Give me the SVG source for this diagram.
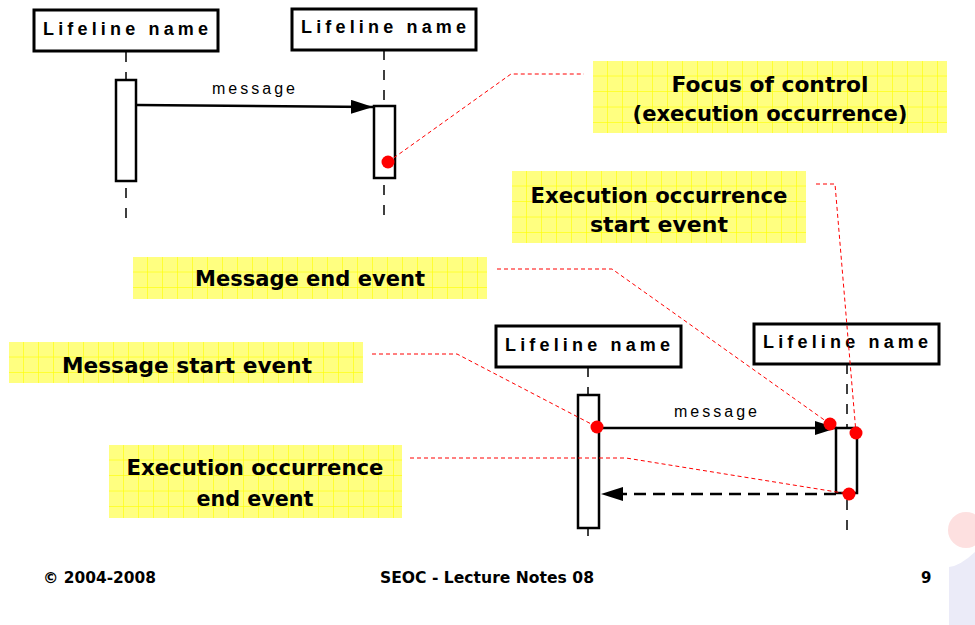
<svg xmlns="http://www.w3.org/2000/svg" width="975" height="625" viewBox="0 0 975 625">
<style>
.lbox{fill:#fff;stroke:#000;stroke-width:3}
.lname{font-family:"Liberation Sans",Arial,sans-serif;font-weight:bold;font-size:18px;fill:#000}
.life{stroke:#000;stroke-width:1.5;stroke-dasharray:10 10;fill:none}
.act{fill:#fff;stroke:#000;stroke-width:2.5}
.msg{stroke:#000;stroke-width:2.5;fill:none}
.ret{stroke:#000;stroke-width:2.5;fill:none;stroke-dasharray:12 7}
.mlabel{font-family:"Liberation Sans",Arial,sans-serif;font-size:16px;fill:#000}
.note{fill:url(#grid)}
.ntext{font-family:"DejaVu Sans","Liberation Sans",sans-serif;font-weight:bold;font-size:22px;fill:#000;text-anchor:middle}
.lead{stroke:#ff0000;stroke-width:1;stroke-dasharray:4 3;fill:none}
.dot{fill:#ff0000}
.foot{font-family:"DejaVu Sans","Liberation Sans",sans-serif;font-weight:bold;font-size:15px;fill:#000}
</style>
<defs>
<pattern id="grid" patternUnits="userSpaceOnUse" width="15" height="15.5">
<rect width="15" height="15.5" fill="#ffff80"/>
<rect x="14.4" width="1.2" height="15.5" fill="#ffff00"/>
<rect y="14.9" width="15" height="1.2" fill="#ffff00"/>
</pattern>
<marker id="arr" markerUnits="userSpaceOnUse" markerWidth="24" markerHeight="16" refX="22" refY="7" orient="auto">
<path d="M0,0 L22,7 L0,14 Z" fill="#000"/>
</marker>
</defs>
<rect width="975" height="625" fill="#fff"/>
<!-- decoration -->
<circle cx="966" cy="530" r="18" fill="#fde0e0"/>
<path d="M949,567 Q960,566 975,552 L975,625 L949,625 Z" fill="#ebebf8"/>

<!-- lifelines top -->
<g id="lifeline1">
<line class="life" x1="126" y1="52" x2="126" y2="80"/>
<line class="life" x1="126" y1="188" x2="126" y2="222"/>
<rect class="lbox" x="34" y="10" width="184" height="41"/>
<text class="lname" x="43" y="35" textLength="165" lengthAdjust="spacing">Lifeline name</text>
<rect class="act" x="116" y="80" width="20" height="101"/>
</g>
<g id="lifeline2">
<line class="life" x1="384" y1="50" x2="384" y2="106"/>
<line class="life" x1="384" y1="185" x2="384" y2="220"/>
<rect class="lbox" x="292" y="9" width="184" height="41"/>
<text class="lname" x="301" y="33" textLength="165" lengthAdjust="spacing">Lifeline name</text>
<rect class="act" x="374" y="106" width="21" height="72"/>
</g>
<!-- lifelines bottom -->
<g id="lifeline3">
<line class="life" x1="588" y1="367" x2="588" y2="395"/>
<line class="life" x1="588" y1="528" x2="588" y2="536"/>
<rect class="lbox" x="496" y="326" width="185" height="41"/>
<text class="lname" x="505" y="351" textLength="165" lengthAdjust="spacing">Lifeline name</text>
<rect class="act" x="578" y="395" width="21" height="133"/>
</g>
<g id="lifeline4">
<line class="life" x1="847" y1="364" x2="847" y2="428"/>
<line class="life" x1="847" y1="500" x2="847" y2="536"/>
<rect class="lbox" x="754" y="324" width="185" height="40"/>
<text class="lname" x="763" y="348" textLength="165" lengthAdjust="spacing">Lifeline name</text>
<rect class="act" x="836" y="428" width="21" height="65"/>
</g>

<!-- notes -->
<g id="note-focus" transform="translate(593,61)">
<rect class="note" width="354" height="72"/>
<text class="ntext" x="177" y="31" textLength="197" lengthAdjust="spacingAndGlyphs">Focus of control</text>
<text class="ntext" x="177" y="60" textLength="275" lengthAdjust="spacingAndGlyphs">(execution occurrence)</text>
</g>
<g id="note-exec-start" transform="translate(512,171)">
<rect class="note" width="294" height="72"/>
<text class="ntext" x="147" y="32" textLength="257" lengthAdjust="spacingAndGlyphs">Execution occurrence</text>
<text class="ntext" x="147" y="61" textLength="138" lengthAdjust="spacingAndGlyphs">start event</text>
</g>
<g id="note-msg-end" transform="translate(133,257)">
<rect class="note" width="354" height="42"/>
<text class="ntext" x="177" y="29" textLength="230" lengthAdjust="spacingAndGlyphs">Message end event</text>
</g>
<g id="note-msg-start" transform="translate(9,342)">
<rect class="note" width="354" height="41"/>
<text class="ntext" x="178" y="31" textLength="250" lengthAdjust="spacingAndGlyphs">Message start event</text>
</g>
<g id="note-exec-end" transform="translate(109,445)">
<rect class="note" width="293" height="73"/>
<text class="ntext" x="146" y="30" textLength="257" lengthAdjust="spacingAndGlyphs">Execution occurrence</text>
<text class="ntext" x="146" y="61" textLength="117" lengthAdjust="spacingAndGlyphs">end event</text>
</g>

<!-- connectors -->
<g id="connectors">
<line class="msg" x1="137" y1="105" x2="373" y2="107" marker-end="url(#arr)"/>
<text class="mlabel" x="212" y="94" textLength="83" lengthAdjust="spacing">message</text>
<line class="msg" x1="599" y1="428" x2="837" y2="428" marker-end="url(#arr)"/>
<text class="mlabel" x="674" y="417" textLength="83" lengthAdjust="spacing">message</text>
<line class="ret" x1="836" y1="494" x2="622" y2="494"/>
<path d="M623,487 L601,494 L623,501 Z" fill="#000"/>
<polyline class="lead" points="388,162 511,74 584,74"/>
<polyline class="lead" points="816,184 835,184 856,433"/>
<polyline class="lead" points="497,269 612,269 830,424"/>
<polyline class="lead" points="372,354 457,354 597,427"/>
<polyline class="lead" points="410,458 626,458 849,494"/>
<circle class="dot" cx="388" cy="162" r="6.5"/>
<circle class="dot" cx="597" cy="427" r="6.5"/>
<circle class="dot" cx="830" cy="424" r="6.5"/>
<circle class="dot" cx="856" cy="433" r="6.5"/>
<circle class="dot" cx="849" cy="494" r="6.5"/>
</g>

<!-- footer -->
<text class="foot" x="43" y="583" textLength="113" lengthAdjust="spacingAndGlyphs">© 2004-2008</text>
<text class="foot" x="380" y="583" textLength="214" lengthAdjust="spacingAndGlyphs">SEOC - Lecture Notes 08</text>
<text class="foot" x="921" y="583">9</text>
</svg>
